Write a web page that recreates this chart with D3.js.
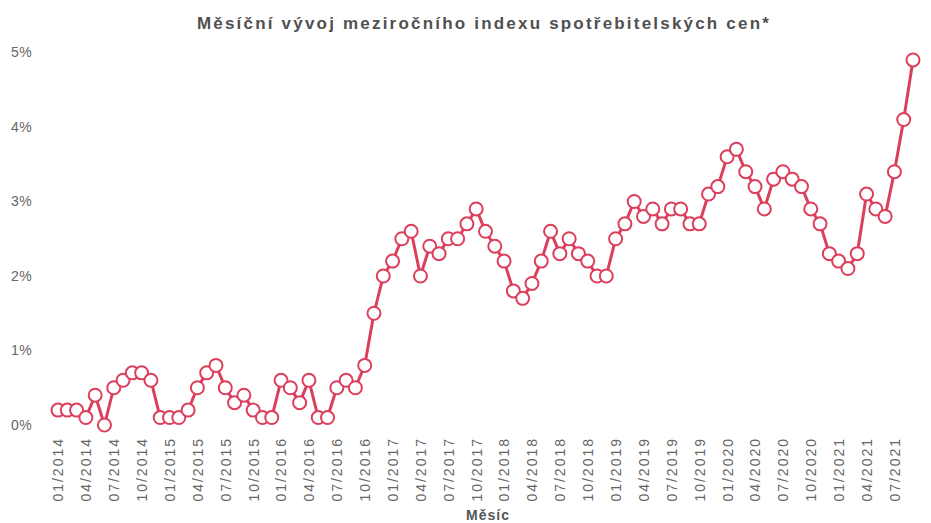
<!DOCTYPE html>
<html lang="cs">
<head>
    <meta charset="UTF-8">
    <title>Měsíční vývoj meziročního indexu spotřebitelských cen</title>
    <script src="https://d3js.org/d3.v7.min.js"></script>
    <style>
        body {
            margin: 0;
            background-color: white;
            font-family: "Liberation Sans", Arial, sans-serif;
        }
        svg {
            display: block;
        }
    </style>
</head>
<body>
    <script>
        // Data: months and year-on-year CPI (%)
        const years = [2014, 2015, 2016, 2017, 2018, 2019, 2020, 2021];
        const months = [];
        years.forEach(y => {
            for (let m = 1; m <= 12; m++) {
                if (y === 2021 && m > 9) break;
                months.push(`${String(m).padStart(2, "0")}/${y}`);
            }
        });

        const cpi = [
            0.2, 0.2, 0.2, 0.1, 0.4, 0.0, 0.5, 0.6, 0.7, 0.7, 0.6, 0.1,
            0.1, 0.1, 0.2, 0.5, 0.7, 0.8, 0.5, 0.3, 0.4, 0.2, 0.1, 0.1,
            0.6, 0.5, 0.3, 0.6, 0.1, 0.1, 0.5, 0.6, 0.5, 0.8, 1.5, 2.0,
            2.2, 2.5, 2.6, 2.0, 2.4, 2.3, 2.5, 2.5, 2.7, 2.9, 2.6, 2.4,
            2.2, 1.8, 1.7, 1.9, 2.2, 2.6, 2.3, 2.5, 2.3, 2.2, 2.0, 2.0,
            2.5, 2.7, 3.0, 2.8, 2.9, 2.7, 2.9, 2.9, 2.7, 2.7, 3.1, 3.2,
            3.6, 3.7, 3.4, 3.2, 2.9, 3.3, 3.4, 3.3, 3.2, 2.9, 2.7, 2.3,
            2.2, 2.1, 2.3, 3.1, 2.9, 2.8, 3.4, 4.1, 4.9
        ];

        const yTicks = [0, 1, 2, 3, 4, 5];
        const xTickLabels = months.filter((d, i) => i % 3 === 0);

        const data = months.map((m, i) => ({month: m, value: cpi[i]}));

        const W = 931, H = 523;
        const svg = d3.select("body").append("svg")
            .attr("width", W)
            .attr("height", H);

        // Scales
        const x = d3.scalePoint()
            .domain(months)
            .range([58, 913]);

        const y = d3.scaleLinear()
            .domain([0, 5])
            .range([425, 52.5]);

        // Title
        svg.append("text")
            .attr("x", 484)
            .attr("y", 29)
            .attr("text-anchor", "middle")
            .style("font-size", "17px")
            .style("font-weight", "bold")
            .style("letter-spacing", "2.2px")
            .style("fill", "#505050")
            .text("Měsíční vývoj meziročního indexu spotřebitelských cen*");

        // Y axis labels
        svg.append("g")
            .selectAll("text")
            .data(yTicks)
            .enter()
            .append("text")
            .attr("x", 11)
            .attr("y", d => y(d))
            .attr("dy", "0.35em")
            .style("font-size", "14px")
            .style("letter-spacing", "0.5px")
            .style("fill", "#666")
            .text(d => d + "%");

        // X axis labels
        const xAxis = svg.append("g")
            .attr("transform", "translate(0,437)")
            .call(d3.axisBottom(x).tickValues(xTickLabels).tickSize(0).tickPadding(0));
        xAxis.select(".domain").remove();
        xAxis.selectAll("text")
            .attr("transform", "rotate(-90)")
            .attr("x", 0)
            .attr("y", 0)
            .attr("dy", "0.35em")
            .style("text-anchor", "end")
            .style("font-family", "\"Liberation Sans\", Arial, sans-serif")
            .style("font-size", "14px")
            .style("letter-spacing", "2px")
            .style("fill", "#666");

        // X axis title
        svg.append("text")
            .attr("x", 488)
            .attr("y", 520)
            .attr("text-anchor", "middle")
            .style("font-size", "14px")
            .style("font-weight", "bold")
            .style("letter-spacing", "1px")
            .style("fill", "#555")
            .text("Měsíc");

        // Line
        const line = d3.line()
            .x(d => x(d.month))
            .y(d => y(d.value));

        svg.append("path")
            .datum(data)
            .attr("fill", "none")
            .attr("stroke", "#dc3f5c")
            .attr("stroke-width", 3)
            .attr("stroke-linejoin", "round")
            .attr("d", line);

        // Markers
        svg.selectAll(".dot")
            .data(data)
            .enter()
            .append("circle")
            .attr("class", "dot")
            .attr("cx", d => x(d.month))
            .attr("cy", d => y(d.value))
            .attr("r", 6.5)
            .attr("fill", "white")
            .attr("stroke", "#dc3f5c")
            .attr("stroke-width", 2)
            .append("title")
            .text(d => `${d.month}: ${d.value}%`);
    </script>
</body>
</html>
